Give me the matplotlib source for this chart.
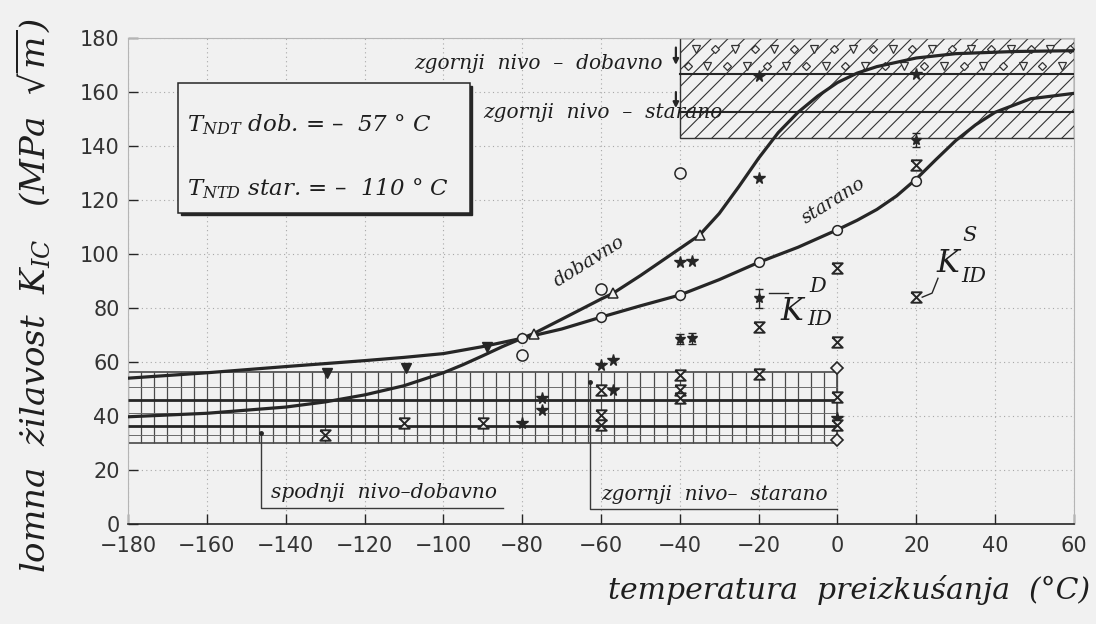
import numpy as np
import matplotlib
matplotlib.use("Agg")
import matplotlib.pyplot as plt
from matplotlib.patches import Rectangle

# ---------------- data ----------------
temp_ticks = [-180, -160, -140, -120, -100, -80, -60, -40, -20, 0, 20, 40, 60]
k_ticks = [0, 20, 40, 60, 80, 100, 120, 140, 160, 180]

# fitted transition curves
dob_T = [-180, -160, -140, -130, -120, -110, -100, -95, -90, -85, -80, -77, -70, -60, -57,
         -50, -45, -40, -35, -30, -25, -20, -15, -10, -5, 0, 5, 10, 20, 30, 45, 60]
dob_K = [39.7, 41.0, 43.3, 45.2, 47.8, 51.2, 56.0, 59.0, 62.3, 65.7, 68.8, 70.6, 75.8, 83.3, 85.4,
         92.0, 97.0, 102.0, 107.0, 115.0, 125.0, 135.5, 145.0, 152.5, 158.5, 163.5, 167.0,
         169.4, 172.6, 174.2, 175.0, 175.3]
star_T = [-180, -160, -140, -120, -110, -100, -90, -80, -70, -60, -50, -40, -30, -20, -10, 0,
          5, 10, 15, 20, 25, 30, 35, 40, 49, 60]
star_K = [54.0, 56.0, 58.3, 60.5, 61.7, 63.1, 65.7, 68.8, 72.2, 76.6, 80.8, 84.8, 90.5, 96.9,
          102.5, 109.0, 112.5, 116.5, 121.5, 127.8, 135.0, 142.0, 147.8, 152.5, 157.5, 159.5]

# measured points
circ_on_T = [-80, -60, -40, -20, 0, 20]
circ_on_K = [68.8, 76.6, 84.8, 96.9, 109.0, 127.0]
circ_off_T = [-80, -60, -40]
circ_off_K = [62.6, 87.0, 130.0]
tri_T = [-77, -57, -35]
tri_K = [70.4, 85.4, 107.0]
tri_dn_T = [-129.5, -109.5, -89]
tri_dn_K = [55.8, 57.7, 65.7]
ast_T = [-20, -40, -37, -60, -57, -80, -75, -75, 0, -57, -20, 20]
ast_K = [128.0, 97.2, 97.5, 59.0, 60.7, 37.5, 46.5, 42.2, 39.1, 49.6, 166.0, 166.5]
err_T = [-20, -40, -37, 20]
err_K = [83.6, 68.5, 68.8, 142.2]
err_E = [3.5, 2.0, 2.0, 2.5]
hour_T = [20, 20, 0, 0, -20, -20, -40, -40, -40, -60, -60, -60, -90, -110, -130, 0, 0]
hour_K = [133.0, 84.0, 94.7, 67.5, 73.1, 55.5, 55.2, 49.6, 46.5, 49.6, 40.4, 36.5,
          37.3, 37.3, 33.0, 47.1, 36.7]
diam_T = [0, 0]
diam_K = [57.7, 31.1]

# shelf regions
upper_x = [-40, 60]
upper_y = [143.0, 180.0]
upper_levels = [166.7, 152.5]
lower_x = [-180, 0]
lower_y = [30.0, 56.2]
lower_levels = [46.0, 36.2]
lower_minor = [50.7, 41.0, 32.8]

# ---------------- style ----------------
BG = "#f1f1f1"
INK = "#262626"
SERIF = ["DejaVu Serif"]
plt.rcParams["mathtext.fontset"] = "dejavuserif"
plt.rcParams["hatch.linewidth"] = 0.8
plt.rcParams["hatch.color"] = "#333333"

fig = plt.figure(figsize=(10.96, 6.24), dpi=100, facecolor=BG)
ax = fig.add_axes([0.1168, 0.1603, 0.8631, 0.7788], facecolor=BG)
ax.set_xlim(-180, 60)
ax.set_ylim(0, 180)

ax.set_xticks(temp_ticks)
ax.set_yticks(k_ticks)
ax.tick_params(direction="in", length=7, width=1.0, color=INK, labelsize=15,
               labelcolor="#333333", labelfontfamily=["Liberation Sans Narrow", "DejaVu Sans"])
ax.tick_params(axis="x", pad=9)
ax.tick_params(axis="y", pad=6)
ax.grid(True, linestyle=(0, (1, 3)), color="#a8a8a8", linewidth=0.8)
ax.set_axisbelow(True)
for s in ["top", "left", "right"]:
    ax.spines[s].set_color("#b5b5b5")
    ax.spines[s].set_linewidth(0.8)
ax.spines["bottom"].set_color(INK)
ax.spines["bottom"].set_linewidth(1.2)

# upper shelf hatched region
ax.add_patch(Rectangle((upper_x[0], upper_y[0]), upper_x[1] - upper_x[0], upper_y[1] - upper_y[0],
                       facecolor=BG, edgecolor="#333333", hatch="//", lw=1.0, zorder=2))
for lv in upper_levels:
    ax.plot(upper_x, [lv, lv], color=INK, lw=1.5, zorder=3)
# symbol pattern in the dobavno upper band
pat1 = np.arange(upper_x[0] + 4, upper_x[1], 10)
pat2 = np.arange(upper_x[0] + 9, upper_x[1], 10)
mk = dict(ls="none", mfc=BG, mec="#333333", mew=0.9, ms=5.5, zorder=3)
ax.plot(pat1, np.full(len(pat1), 176.0), marker="v", **mk)
ax.plot(pat2, np.full(len(pat2), 176.0), marker="D", **dict(mk, ms=4))
ax.plot(pat1 - 2, np.full(len(pat1), 169.7), marker="D", **dict(mk, ms=4))
ax.plot(pat2 - 2, np.full(len(pat2), 169.7), marker="v", **mk)

# lower shelf gridded region
ax.add_patch(Rectangle((lower_x[0], lower_y[0]), lower_x[1] - lower_x[0], lower_y[1] - lower_y[0],
                       facecolor=BG, edgecolor="#3a3a3a", lw=1.1, zorder=2))
ax.vlines(np.arange(lower_x[0], lower_x[1] + 0.01, 10 / 3), lower_y[0], lower_y[1],
          color="#4a4a4a", lw=0.9, zorder=2)
ax.hlines(lower_minor, lower_x[0], lower_x[1], color="#6a6a6a", lw=0.7, zorder=2)
ax.hlines(lower_levels, lower_x[0], lower_x[1], color=INK, lw=2.0, zorder=3)

# curves
ax.plot(dob_T, dob_K, color=INK, lw=2.3, zorder=4, solid_capstyle="round", solid_joinstyle="round")
ax.plot(star_T, star_K, color=INK, lw=2.3, zorder=4, solid_capstyle="round", solid_joinstyle="round")

# markers
hourglass = [(-1, 1), (1, 1), (-1, -1), (1, -1), (-1, 1)]
ax.plot(circ_on_T, circ_on_K, "o", ms=7, mfc=BG, mec=INK, mew=1.1, zorder=5)
ax.plot(circ_off_T, circ_off_K, "o", ms=8, mfc=BG, mec=INK, mew=1.1, zorder=5)
ax.plot(tri_T, tri_K, "^", ms=7, mfc=BG, mec=INK, mew=1.1, zorder=5)
ax.plot(tri_dn_T, tri_dn_K, "v", ms=7, color=INK, zorder=5)
ax.plot(ast_T, ast_K, "*", ms=8.5, color=INK, zorder=5)
ax.errorbar(err_T, err_K, yerr=err_E, fmt="*", ms=7, color=INK, capsize=3, lw=1, zorder=5)
ax.plot(hour_T, hour_K, marker=hourglass, ls="none", ms=7.5, mfc=BG, mec=INK, mew=1.4, zorder=5)
ax.plot(diam_T, diam_K, "D", ms=6, mfc=BG, mec=INK, mew=1.2, zorder=5)

# text box with T_NDT values
ax.add_patch(Rectangle((-166.5, 114.5), 73.9, 47.9, facecolor=INK, edgecolor=INK, lw=1, zorder=6))
ax.add_patch(Rectangle((-167.2, 115.3), 73.9, 47.9, facecolor=BG, edgecolor=INK, lw=1.1, zorder=6))
txt = dict(family=SERIF, style="italic", color="#1e1e1e", zorder=7)
ax.text(-165.0, 148.0, r"$T_{NDT}$ dob. = –  57 ° C", fontsize=16.5, va="center", **txt)
ax.text(-165.0, 124.0, r"$T_{NTD}$ star. = –  110 ° C", fontsize=16.5, va="center", **txt)

# shelf labels
ax.text(-44.3, 170.6, "zgornji  nivo  –  dobavno", fontsize=14.5, ha="right", va="center", **txt)
ax.text(-90.0, 152.5, "zgornji  nivo  –  starano", fontsize=14.5, ha="left", va="center", **txt)
ax.annotate("", xy=(-41, 169.0), xytext=(-41, 177.5),
            arrowprops=dict(arrowstyle="-|>", color=INK, lw=1.6, mutation_scale=8), zorder=7)
ax.annotate("", xy=(-41, 153.0), xytext=(-41, 161.0),
            arrowprops=dict(arrowstyle="-|>", color=INK, lw=1.6, mutation_scale=8), zorder=7)

# curve labels
ax.text(-63.1, 97.4, "dobavno", fontsize=13.5, rotation=32, ha="center", va="center", **txt)
ax.text(-1.1, 119.7, "starano", fontsize=13.5, rotation=32, ha="center", va="center", **txt)

# K_ID labels
ax.plot([-17.5, -12.5], [85.5, 85.5], color=INK, lw=1.0, zorder=6)
ax.text(-11.7, 78.6, "K", fontsize=22, ha="center", va="center", **txt)
ax.text(-4.9, 88.0, "D", fontsize=15, ha="center", va="center", **txt)
ax.text(-4.5, 75.6, "ID", fontsize=15, ha="center", va="center", **txt)
ax.plot([21.5, 24.0, 25.5], [84.0, 85.5, 91.0], color=INK, lw=1.0, zorder=6)
ax.text(28.1, 96.3, "K", fontsize=22, ha="center", va="center", **txt)
ax.text(33.6, 107.0, "S", fontsize=15, ha="center", va="center", **txt)
ax.text(34.6, 91.6, "ID", fontsize=15, ha="center", va="center", **txt)

# bracket labels near the lower shelf
ax.plot([-146.3, -146.3, -84.8], [33.8, 5.8, 5.8], color="#3a3a3a", lw=1.0, zorder=6)
ax.plot([-146.3], [33.8], "o", ms=2.5, color=INK, zorder=6)
ax.text(-115.0, 11.6, "spodnji  nivo–dobavno", fontsize=14.5, ha="center", va="center", **txt)
ax.plot([-62.8, -62.8, 0.0], [52.7, 5.5, 5.5], color="#3a3a3a", lw=1.0, zorder=6)
ax.plot([-62.8], [52.7], "o", ms=2.5, color=INK, zorder=6)
ax.text(-31.2, 10.8, "zgornji  nivo–  starano", fontsize=14.5, ha="center", va="center", **txt)

# axis titles
fig.text(33 / 1096, 0.527, r"lomna  żilavost  $K_{IC}$   (MPa  $\sqrt{m}$)", rotation=90,
         fontsize=24.5, family=SERIF, style="italic", color="#1e1e1e", ha="center", va="center")
fig.text(1090 / 1096, 1 - 590 / 624, "temperatura  preizkuśanja  (°C)", fontsize=21.5,
         family=SERIF, style="italic", color="#1e1e1e", ha="right", va="center")

fig.savefig("out.png", dpi=100, facecolor=BG)
